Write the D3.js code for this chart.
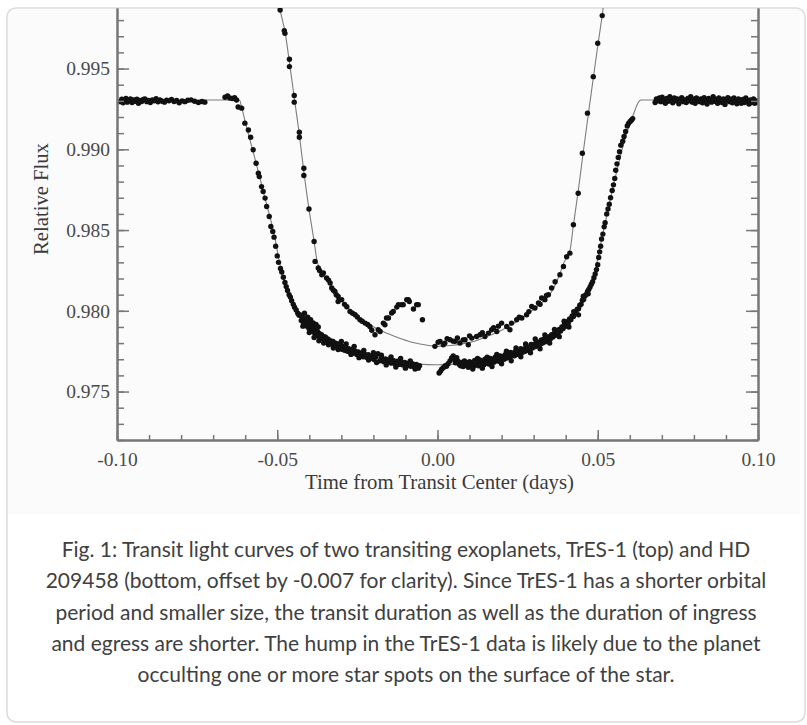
<!DOCTYPE html>
<html><head><meta charset="utf-8">
<script src="https://cdn.jsdelivr.net/npm/d3@7"></script>
<style>html,body{margin:0;padding:0;background:#fff;}svg{display:block}</style>
</head><body>
<svg id="chart" width="807" height="725"></svg>
<script>
// ---------------- DATA (time from transit centre [days], relative flux) ----------------
const xTickValues = [-0.10, -0.05, 0.00, 0.05, 0.10];
const xTickLabels = ["-0.10", "-0.05", "0.00", "0.05", "0.10"];
const yTickValues = [0.975, 0.980, 0.985, 0.990, 0.995];
const yTickLabels = ["0.975", "0.980", "0.985", "0.990", "0.995"];
const xTitle = "Time from Transit Center (days)";
const yTitle = "Relative Flux";
const captionLines = [
  "Fig. 1: Transit light curves of two transiting exoplanets, TrES-1 (top) and HD",
  "209458 (bottom, offset by -0.007 for clarity). Since TrES-1 has a shorter orbital",
  "period and smaller size, the transit duration as well as the duration of ingress",
  "and egress are shorter. The hump in the TrES-1 data is likely due to the planet",
  "occulting one or more star spots on the surface of the star."
];

// HD 209458 (bottom curve, offset by -0.007)
const hdPreTransit = [[-0.0990,0.99295],[-0.0985,0.99310],[-0.0981,0.99288],[-0.0977,0.99305],[-0.0972,0.99315],[-0.0968,0.99292],[-0.0963,0.99300],[-0.0958,0.99312],[-0.0953,0.99290],[-0.0948,0.99305],[-0.0943,0.99298],[-0.0938,0.99310],[-0.0933,0.99285],[-0.0928,0.99302],[-0.0923,0.99296],[-0.0918,0.99308],[-0.0913,0.99312],[-0.0907,0.99295],[-0.0902,0.99303],[-0.0896,0.99290],[-0.0890,0.99306],[-0.0884,0.99300],[-0.0878,0.99314],[-0.0872,0.99294],[-0.0866,0.99305],[-0.0859,0.99298],[-0.0852,0.99292],[-0.0845,0.99304],[-0.0838,0.99300],[-0.0830,0.99308],[-0.0822,0.99296],[-0.0814,0.99302],[-0.0806,0.99288],[-0.0797,0.99300],[-0.0788,0.99295],[-0.0779,0.99304],[-0.0769,0.99306],[-0.0758,0.99298],[-0.0746,0.99290],[-0.0735,0.99296],[-0.0726,0.99292],
  [-0.0663,0.99322],[-0.0655,0.99330],[-0.0648,0.99318],[-0.0640,0.99315],[-0.0633,0.99320],[-0.0627,0.99305],[-0.0622,0.99262]];
const hdIngress = [[-0.0611,0.99255],[-0.0601,0.99162],[-0.0590,0.99120],[-0.0583,0.99075],[-0.0575,0.98997],[-0.0566,0.98914],[-0.0559,0.98852],[-0.0556,0.98831],[-0.0549,0.98769],[-0.0544,0.98739],[-0.0538,0.98698],[-0.0533,0.98646],[-0.0525,0.98584],[-0.0520,0.98522],[-0.0514,0.98491],[-0.0510,0.98456],[-0.0505,0.98400],[-0.0500,0.98340],[-0.0496,0.98300],[-0.0490,0.98262],[-0.0486,0.98240],[-0.0481,0.98208],[-0.0476,0.98175],[-0.0472,0.98150],[-0.0468,0.98126],[-0.0463,0.98100],[-0.0459,0.98085],[-0.0455,0.98062],[-0.0450,0.98040],[-0.0446,0.98022],[-0.0441,0.98005],[-0.0436,0.97985],[-0.0432,0.97972]];
const hdBottomLeft = [[-0.0428,0.97975],[-0.0425,0.97940],[-0.0422,0.97962],[-0.0419,0.97930],[-0.0416,0.97950],[-0.0415,0.97985],[-0.0413,0.97918],[-0.0410,0.97935],[-0.0407,0.97905],[-0.0405,0.97960],[-0.0404,0.97925],[-0.0401,0.97890],[-0.0398,0.97912],[-0.0396,0.97945],[-0.0395,0.97880],[-0.0392,0.97905],[-0.0389,0.97872],[-0.0388,0.97925],[-0.0386,0.97892],[-0.0383,0.97862],[-0.0380,0.97880],[-0.0379,0.97915],[-0.0377,0.97848],[-0.0374,0.97870],[-0.0372,0.97900],[-0.0371,0.97842],[-0.0368,0.97858],[-0.0365,0.97830],[-0.0362,0.97852],[-0.0359,0.97825],[-0.0356,0.97840],[-0.0353,0.97818],[-0.0350,0.97838],[-0.0346,0.97808],[-0.0342,0.97826],[-0.0338,0.97800],[-0.0334,0.97815],[-0.0330,0.97795],[-0.0326,0.97810],[-0.0322,0.97785],[-0.0318,0.97800],[-0.0314,0.97778],[-0.0310,0.97795],[-0.0306,0.97770],[-0.0302,0.97785],[-0.0298,0.97762],[-0.0294,0.97778],[-0.0290,0.97755],[-0.0286,0.97772],[-0.0281,0.97750],[-0.0277,0.97765],[-0.0272,0.97745],[-0.0267,0.97760],[-0.0262,0.97738],[-0.0257,0.97752],[-0.0252,0.97730],[-0.0247,0.97745],[-0.0242,0.97722],[-0.0237,0.97738],[-0.0232,0.97715],[-0.0227,0.97732],[-0.0222,0.97712],[-0.0216,0.97728],[-0.0210,0.97705],[-0.0204,0.97720],[-0.0198,0.97698],[-0.0192,0.97715],[-0.0186,0.97735],[-0.0180,0.97690],[-0.0174,0.97708],[-0.0168,0.97685],[-0.0162,0.97702],[-0.0156,0.97680],[-0.0150,0.97698],[-0.0144,0.97676],[-0.0138,0.97692],[-0.0132,0.97672],[-0.0126,0.97688],[-0.0120,0.97668],[-0.0114,0.97685],[-0.0108,0.97665],[-0.0102,0.97680],[-0.0096,0.97660],[-0.0090,0.97676],[-0.0084,0.97656],[-0.0078,0.97672],[-0.0072,0.97652],[-0.0066,0.97668],[-0.0060,0.97645],[-0.0056,0.97660]];
const hdBottomLeftScatter = [[-0.0420,0.97905],[-0.0400,0.97865],[-0.0385,0.97835],[-0.0370,0.97815],[-0.0355,0.97800],[-0.0340,0.97790],[-0.0325,0.97770],[-0.0310,0.97760],[-0.0300,0.97810],[-0.0285,0.97795],[-0.0270,0.97730],[-0.0260,0.97780],[-0.0245,0.97710],[-0.0230,0.97755],[-0.0215,0.97695],[-0.0200,0.97740],[-0.0190,0.97680],[-0.0175,0.97725],[-0.0160,0.97665],[-0.0145,0.97715],[-0.0130,0.97652],[-0.0115,0.97705],[-0.0100,0.97645],[-0.0085,0.97690],[-0.0070,0.97640]];
const hdBottomRight = [[0.0005,0.97615],[0.0009,0.97625],[0.0013,0.97638],[0.0018,0.97648],[0.0024,0.97660],[0.0028,0.97656],[0.0033,0.97672],[0.0039,0.97690],[0.0044,0.97708],[0.0049,0.97720],[0.0053,0.97700],[0.0056,0.97678],[0.0060,0.97710],[0.0064,0.97688],[0.0068,0.97668],
  [0.0072,0.97660],[0.0076,0.97680],[0.0080,0.97655],[0.0084,0.97690],[0.0088,0.97662],[0.0092,0.97678],[0.0096,0.97650],[0.0100,0.97685],[0.0104,0.97660],[0.0108,0.97675],[0.0112,0.97655],[0.0116,0.97692],[0.0120,0.97665],[0.0124,0.97682],[0.0128,0.97660],[0.0132,0.97695],[0.0136,0.97670],[0.0140,0.97688],[0.0144,0.97665],[0.0148,0.97700],[0.0152,0.97675],[0.0156,0.97692],[0.0160,0.97670],[0.0164,0.97705],[0.0168,0.97680],[0.0172,0.97700],[0.0176,0.97682],[0.0180,0.97712],[0.0184,0.97690],[0.0188,0.97708],[0.0192,0.97688],[0.0196,0.97720],[0.0200,0.97698],[0.0204,0.97718],[0.0208,0.97700],[0.0212,0.97730],[0.0216,0.97708],[0.0220,0.97728],[0.0224,0.97712],[0.0228,0.97742],[0.0232,0.97720],[0.0236,0.97738],[0.0240,0.97722],[0.0244,0.97752],[0.0248,0.97730],[0.0252,0.97748],[0.0256,0.97735],[0.0260,0.97765],[0.0264,0.97742],[0.0268,0.97760],[0.0272,0.97748],[0.0276,0.97778],[0.0280,0.97755],[0.0284,0.97775],[0.0288,0.97762],[0.0292,0.97792],[0.0296,0.97770],[0.0300,0.97790],[0.0304,0.97778],[0.0308,0.97805],[0.0312,0.97785],[0.0316,0.97805],[0.0320,0.97792],[0.0324,0.97820],[0.0328,0.97800],[0.0332,0.97822],[0.0336,0.97808],[0.0340,0.97835],[0.0344,0.97818],[0.0348,0.97840],[0.0352,0.97825],[0.0356,0.97852],[0.0360,0.97838],[0.0364,0.97860],[0.0368,0.97848],[0.0372,0.97872],[0.0376,0.97860],[0.0380,0.97885],[0.0384,0.97875],[0.0388,0.97900],[0.0392,0.97890],[0.0396,0.97915],[0.0400,0.97905],[0.0404,0.97932],[0.0408,0.97925],[0.0412,0.97950],[0.0416,0.97945],[0.0420,0.97968],[0.0424,0.97965],[0.0428,0.97990],[0.0432,0.97985],[0.0436,0.98010],[0.0440,0.98012],[0.0444,0.98035],[0.0448,0.98040],[0.0452,0.98065],[0.0456,0.98070],[0.0460,0.98092],[0.0464,0.98102],[0.0468,0.98120],[0.0472,0.98132],[0.0476,0.98148],[0.0480,0.98165],[0.0484,0.98180],[0.0488,0.98205],[0.0492,0.98228],[0.0496,0.98255],[0.0500,0.98285],[0.0503,0.98330],[0.0506,0.98365],[0.0509,0.98400],[0.0512,0.98445]];
const hdBottomRightScatter = [[0.0110,0.97640],[0.0125,0.97705],[0.0140,0.97645],[0.0155,0.97712],[0.0170,0.97655],[0.0185,0.97730],[0.0200,0.97672],[0.0215,0.97750],[0.0230,0.97690],[0.0245,0.97770],[0.0260,0.97715],[0.0275,0.97795],[0.0290,0.97740],[0.0305,0.97825],[0.0320,0.97765],[0.0335,0.97850],[0.0350,0.97800],[0.0365,0.97885],[0.0380,0.97840],[0.0395,0.97935],[0.0410,0.97900],[0.0425,0.97995],[0.0440,0.97975],[0.0455,0.98090],[0.0470,0.98105]];
const hdEgress = [[0.0516,0.98475],[0.0520,0.98520],[0.0523,0.98545],[0.0528,0.98600],[0.0532,0.98630],[0.0536,0.98660],[0.0540,0.98700],[0.0545,0.98745],[0.0549,0.98780],[0.0553,0.98820],[0.0556,0.98870],[0.0560,0.98910],[0.0564,0.98950],[0.0568,0.98985],[0.0572,0.99025],[0.0578,0.99050],[0.0582,0.99080],[0.0587,0.99110],[0.0592,0.99145],[0.0596,0.99160],[0.0601,0.99172],[0.0605,0.99180],[0.0609,0.99190]];
const hdPostTransit = [[0.0679,0.99290],[0.0683,0.99312],[0.0688,0.99300],[0.0692,0.99318],[0.0697,0.99295],[0.0701,0.99322],[0.0706,0.99305],[0.0711,0.99285],[0.0715,0.99315],[0.0720,0.99298],[0.0725,0.99325],[0.0729,0.99302],[0.0734,0.99288],[0.0739,0.99318],[0.0743,0.99300],[0.0748,0.99312],[0.0753,0.99282],[0.0757,0.99308],[0.0762,0.99320],[0.0767,0.99295],[0.0771,0.99305],[0.0776,0.99290],[0.0781,0.99315],[0.0785,0.99300],[0.0790,0.99325],[0.0795,0.99292],[0.0799,0.99310],[0.0804,0.99285],[0.0808,0.99318],[0.0813,0.99302],[0.0818,0.99295],[0.0822,0.99312],[0.0827,0.99288],[0.0832,0.99320],[0.0836,0.99300],[0.0841,0.99280],[0.0846,0.99315],[0.0850,0.99305],[0.0855,0.99292],[0.0860,0.99325],[0.0864,0.99298],[0.0869,0.99310],[0.0874,0.99285],[0.0878,0.99318],[0.0883,0.99300],[0.0888,0.99290],[0.0892,0.99312],[0.0897,0.99278],[0.0902,0.99305],[0.0906,0.99320],[0.0911,0.99295],[0.0916,0.99310],[0.0920,0.99288],[0.0925,0.99318],[0.0930,0.99300],[0.0934,0.99282],[0.0939,0.99312],[0.0944,0.99298],[0.0948,0.99285],[0.0953,0.99308],[0.0958,0.99290],[0.0962,0.99318],[0.0967,0.99295],[0.0972,0.99280],[0.0976,0.99305],[0.0981,0.99290],[0.0986,0.99312],[0.0990,0.99285],[0.0995,0.99300],[0.0999,0.99292]];
const hdModel = [[-0.100,0.99305],[-0.0618,0.99305],[-0.0611,0.99260],[-0.0600,0.99170],[-0.0580,0.99020],[-0.0560,0.98870],[-0.0540,0.98710],[-0.0520,0.98560],[-0.0505,0.98430],[-0.0495,0.98320],[-0.0485,0.98235],[-0.0475,0.98170],[-0.0465,0.98115],[-0.0455,0.98065],[-0.0445,0.98020],[-0.0430,0.97968],[-0.0410,0.97910],[-0.0380,0.97860],[-0.0350,0.97825],[-0.0310,0.97788],[-0.0270,0.97758],[-0.0220,0.97725],[-0.0170,0.97700],[-0.0120,0.97683],[-0.0060,0.97670],[0.0000,0.97666],[0.0060,0.97670],[0.0120,0.97683],[0.0170,0.97700],[0.0220,0.97725],[0.0270,0.97758],[0.0310,0.97790],[0.0350,0.97830],[0.0380,0.97870],[0.0410,0.97925],[0.0430,0.97975],[0.0445,0.98030],[0.0465,0.98100],[0.0480,0.98170],[0.0492,0.98250],[0.0502,0.98340],[0.0512,0.98440],[0.0525,0.98560],[0.0540,0.98700],[0.0560,0.98870],[0.0580,0.99030],[0.0600,0.99160],[0.0612,0.99220],[0.0625,0.99285],[0.0635,0.99305],[0.100,0.99305]];

// TrES-1 (top curve)
const tresIngress = [[-0.0491,0.99863],[-0.0478,0.99735],[-0.0476,0.99718],[-0.0462,0.99558],[-0.0462,0.99512],[-0.0447,0.99333],[-0.0447,0.99292],[-0.0431,0.99106],[-0.0431,0.99075],[-0.0417,0.98883],[-0.0417,0.98838],[-0.0401,0.98630],[-0.0385,0.98429],[-0.0382,0.98306],[-0.0372,0.98265]];
const tresBottomLeft = [[-0.0368,0.98250],[-0.0361,0.98223],[-0.0356,0.98234],[-0.0346,0.98203],[-0.0340,0.98190],[-0.0335,0.98172],[-0.0330,0.98141],[-0.0325,0.98128],[-0.0320,0.98120],[-0.0316,0.98100],[-0.0310,0.98089],[-0.0310,0.98058],[-0.0299,0.98069],[-0.0290,0.98040],[-0.0283,0.98025],[-0.0273,0.97996],[-0.0265,0.97985],[-0.0257,0.97976],[-0.0250,0.97962],[-0.0242,0.97945],[-0.0235,0.97935],[-0.0226,0.97924],[-0.0218,0.97915],[-0.0211,0.97903],[-0.0205,0.97880],[-0.0195,0.97852]];
const tresHump = [[-0.0185,0.97883],[-0.0179,0.97872],[-0.0169,0.97924],[-0.0164,0.97914],[-0.0159,0.97955],[-0.0153,0.97955],[-0.0143,0.97986],[-0.0138,0.97996],[-0.0127,0.98023],[-0.0122,0.98038],[-0.0112,0.98038],[-0.0107,0.98038],[-0.0096,0.98069],[-0.0091,0.98069],[-0.0088,0.98058],[-0.0075,0.98011],[-0.0065,0.98038],[-0.0060,0.98038],[-0.0047,0.97945]];
const tresBottomRight = [[-0.0008,0.97780],[0.0002,0.97805],[0.0008,0.97811],[0.0018,0.97790],[0.0023,0.97800],[0.0030,0.97828],[0.0039,0.97821],[0.0049,0.97812],[0.0055,0.97811],[0.0062,0.97832],[0.0070,0.97801],[0.0080,0.97820],[0.0086,0.97821],[0.0096,0.97790],[0.0100,0.97845],[0.0107,0.97831],[0.0122,0.97841],[0.0133,0.97852],[0.0140,0.97865],[0.0148,0.97841],[0.0159,0.97862],[0.0169,0.97883],[0.0175,0.97895],[0.0185,0.97872],[0.0190,0.97905],[0.0200,0.97924],[0.0216,0.97903],[0.0226,0.97883],[0.0231,0.97924],[0.0247,0.97945],[0.0255,0.97960],[0.0263,0.97955],[0.0278,0.97976],[0.0285,0.97995],[0.0294,0.98027],[0.0304,0.98017],[0.0315,0.98048],[0.0320,0.98040],[0.0325,0.98079],[0.0335,0.98069],[0.0340,0.98095],[0.0346,0.98100],[0.0356,0.98141],[0.0367,0.98180],[0.0382,0.98223],[0.0393,0.98274],[0.0403,0.98335]];
const tresEgress = [[0.0413,0.98357],[0.0424,0.98533],[0.0439,0.98728],[0.0452,0.98976],[0.0468,0.99224],[0.0486,0.99450],[0.0500,0.99657],[0.0514,0.99828]];
const tresModel = [[-0.100,1.0000],[-0.0502,1.0000],[-0.0491,0.99863],[-0.0476,0.99730],[-0.0462,0.99540],[-0.0447,0.99320],[-0.0431,0.99090],[-0.0417,0.98860],[-0.0401,0.98630],[-0.0385,0.98430],[-0.0376,0.98310],[-0.0365,0.98250],[-0.0350,0.98210],[-0.0330,0.98150],[-0.0310,0.98090],[-0.0280,0.98020],[-0.0250,0.97965],[-0.0220,0.97925],[-0.0190,0.97890],[-0.0160,0.97862],[-0.0120,0.97832],[-0.0080,0.97805],[-0.0040,0.97790],[0.0000,0.97780],[0.0040,0.97785],[0.0080,0.97797],[0.0120,0.97815],[0.0160,0.97845],[0.0200,0.97880],[0.0240,0.97925],[0.0280,0.97980],[0.0310,0.98025],[0.0340,0.98080],[0.0360,0.98130],[0.0380,0.98220],[0.0395,0.98300],[0.0413,0.98370],[0.0424,0.98530],[0.0439,0.98740],[0.0452,0.98940],[0.0468,0.99180],[0.0486,0.99440],[0.0500,0.99640],[0.0514,0.99830],[0.0526,1.0000],[0.100,1.0000]];

// ---------------- DRAWING ----------------
const svg = d3.select("#chart");
const M = {left:117, right:758, top:8, bottom:440};
const x = d3.scaleLinear().domain([-0.1, 0.1]).range([M.left, M.right]);
const y = d3.scaleLinear().domain([0.972, 0.99875]).range([M.bottom, M.top]);

// frame + image background
svg.append("rect").attr("x",8).attr("y",9).attr("width",792).attr("height",505).attr("fill","#fbfbfb");
svg.append("rect").attr("x",7).attr("y",8).attr("width",798).attr("height",714).attr("rx",9)
  .attr("fill","none").attr("stroke","#dcdcdc").attr("stroke-width",1.5);

svg.append("defs").append("clipPath").attr("id","plotclip").append("rect")
  .attr("x",M.left).attr("y",M.top).attr("width",M.right-M.left).attr("height",M.bottom-M.top);

const plot = svg.append("g").attr("clip-path","url(#plotclip)");
const line = d3.line().x(d=>x(d[0])).y(d=>y(d[1])).curve(d3.curveMonotoneX);
[hdModel, tresModel].forEach(m => plot.append("path").attr("d", line(m))
  .attr("fill","none").attr("stroke","#7d7d7d").attr("stroke-width",1.1));

const allPts = [].concat(hdPreTransit, hdIngress, hdBottomLeft, hdBottomLeftScatter, hdBottomRight,
  hdBottomRightScatter, hdEgress, hdPostTransit,
  tresIngress, tresBottomLeft, tresHump, tresBottomRight, tresEgress);
plot.append("g").selectAll("circle").data(allPts).join("circle")
  .attr("cx", d=>x(d[0])).attr("cy", d=>y(d[1])).attr("r", 2.7).attr("fill","#111");

// axes
const axisColor = "#777";
const fontSerif = "'Liberation Serif','Times New Roman',serif";
const xMinor = d3.range(-10, 11).map(i => i/100);
const yMinor = d3.range(972, 999).map(i => i/1000);

function styleAxis(g){
  g.select(".domain").attr("stroke",axisColor).attr("stroke-width",2);
  g.selectAll(".tick line").attr("stroke",axisColor).attr("stroke-width",1.5);
  g.selectAll("text").attr("fill","#4a4a4a").attr("font-family",fontSerif).attr("font-size",19.5);
}
// bottom
svg.append("g").attr("transform",`translate(0,${M.bottom})`)
  .call(d3.axisBottom(x).tickValues(xMinor).tickSize(-5).tickSizeOuter(0).tickFormat(""))
  .call(styleAxis);
svg.append("g").attr("transform",`translate(0,${M.bottom})`)
  .call(d3.axisBottom(x).tickValues(xTickValues).tickSize(-10).tickSizeOuter(0).tickPadding(12)
    .tickFormat((d,i)=>xTickLabels[i]))
  .call(styleAxis);
// left
svg.append("g").attr("transform",`translate(${M.left},0)`)
  .call(d3.axisLeft(y).tickValues(yMinor).tickSize(-7).tickSizeOuter(0).tickFormat(""))
  .call(styleAxis);
svg.append("g").attr("transform",`translate(${M.left},0)`)
  .call(d3.axisLeft(y).tickValues(yTickValues).tickSize(-12).tickSizeOuter(0).tickPadding(7)
    .tickFormat((d,i)=>yTickLabels[i]))
  .call(styleAxis);
// right
svg.append("g").attr("transform",`translate(${M.right},0)`)
  .call(d3.axisRight(y).tickValues(yMinor).tickSize(-7).tickSizeOuter(0).tickFormat(""))
  .call(styleAxis);
svg.append("g").attr("transform",`translate(${M.right},0)`)
  .call(d3.axisRight(y).tickValues(yTickValues).tickSize(-12).tickSizeOuter(0).tickFormat(""))
  .call(styleAxis);

// titles
const xt = svg.append("text").attr("x",439.5).attr("y",489).attr("text-anchor","middle")
  .attr("font-family",fontSerif).attr("font-size",19).attr("fill","#3a3a3a").text(xTitle);
xt.attr("font-size", 19 * 269 / xt.node().getComputedTextLength());
const yt = svg.append("text").attr("transform","translate(48,199) rotate(-90)").attr("text-anchor","middle")
  .attr("font-family",fontSerif).attr("font-size",20).attr("fill","#3a3a3a").text(yTitle);
yt.attr("font-size", 20 * 112 / yt.node().getComputedTextLength());

// caption
const cap = svg.append("g").attr("font-family","Lato, 'Open Sans', sans-serif").attr("fill","#404040")
  .attr("text-anchor","middle");
captionLines.forEach((t,i)=> cap.append("text").attr("x",406).attr("y",557 + i*31.3)
  .attr("font-size",18).text(t));
const w2 = cap.selectAll("text").nodes()[1].getComputedTextLength();
cap.selectAll("text").attr("font-size", 18 * 721 / w2);
</script>
</body></html>
